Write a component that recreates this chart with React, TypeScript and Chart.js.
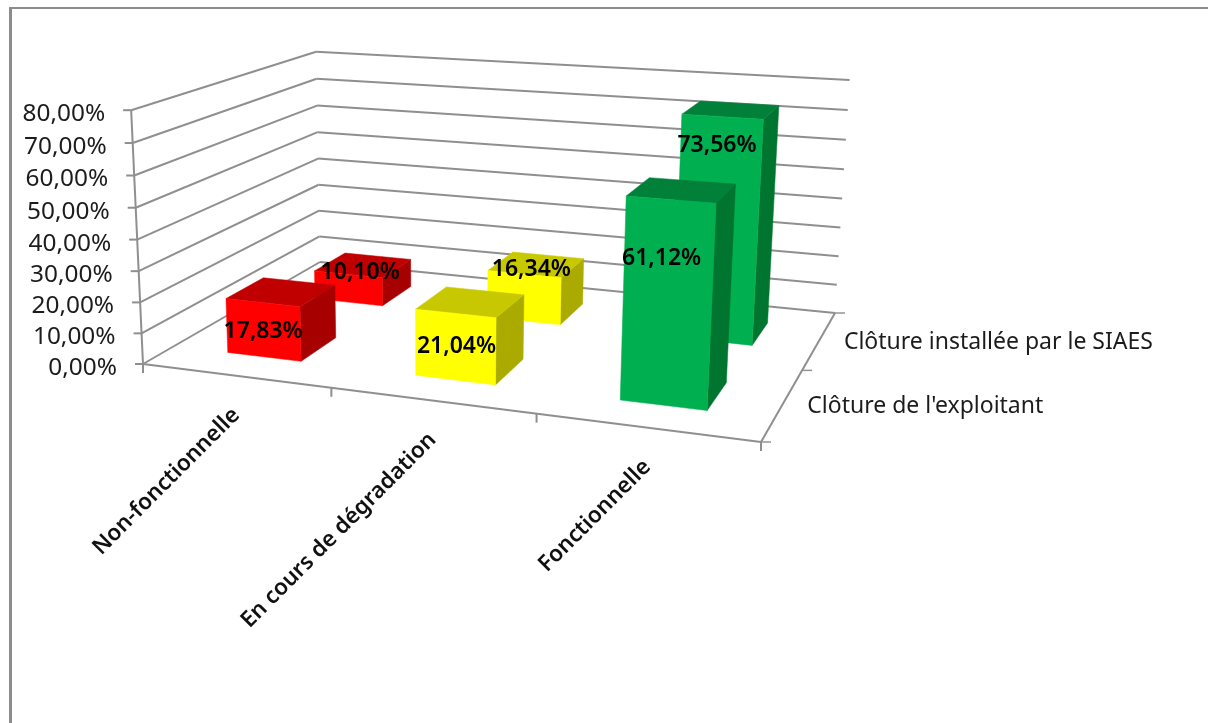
import React, { useEffect, useRef } from "react";
import { Chart, registerables } from "chart.js";

Chart.register(...registerables);

// ---- data ----
const categories = ["Non-fonctionnelle", "En cours de dégradation", "Fonctionnelle"];
const seriesNames = ["Clôture de l'exploitant", "Clôture installée par le SIAES"];
const exploitantValues = [17.83, 21.04, 61.12];
const siaesValues = [10.1, 16.34, 73.56];
const yTicksMax = 80;
const yTicksStep = 10;

// ---- styles ----
const faceColors = [
  { front: "#FF0000", top: "#C00000", side: "#A60000" },
  { front: "#FFFF00", top: "#C8C800", side: "#AAAA00" },
  { front: "#00B050", top: "#008039", side: "#00752F" },
];
const GRID = "#8f8f8f";
const FONT = '"Noto Sans", sans-serif';
const BAR_U = 0.4; // share of a category band
const BAR_V = 0.4; // share of a depth band

// camera calibration: the corners of the 3D box on screen
const floorFL: [number, number] = [143, 364];
const floorFR: [number, number] = [761, 442];
const floorBR: [number, number] = [835, 313];
const floorBL: [number, number] = [320, 262];
const topFL: [number, number] = [129.5, 110];
const topBL: [number, number] = [318, 51];
const topBR: [number, number] = [849, 81];

// data label placement relative to the centre of the bar's top face
const labelNudge = [
  [[-18, 40], [-14, 45], [-20, 68]],
  [[-3, 7], [-5, 5], [-14, 36]],
];

function squareToQuad(p0: number[], p1: number[], p2: number[], p3: number[]) {
  // (0,0)->p0, (1,0)->p1, (1,1)->p2, (0,1)->p3
  const sx = p0[0] - p1[0] + p2[0] - p3[0];
  const sy = p0[1] - p1[1] + p2[1] - p3[1];
  const dx1 = p1[0] - p2[0], dx2 = p3[0] - p2[0];
  const dy1 = p1[1] - p2[1], dy2 = p3[1] - p2[1];
  const den = dx1 * dy2 - dx2 * dy1;
  const g = (sx * dy2 - dx2 * sy) / den;
  const h = (dx1 * sy - sx * dy1) / den;
  return {
    a: p1[0] - p0[0] + g * p1[0], b: p3[0] - p0[0] + h * p3[0], c: p0[0],
    d: p1[1] - p0[1] + g * p1[1], e: p3[1] - p0[1] + h * p3[1], f: p0[1],
    g, h,
  };
}

function solve3(m: number[][], r: number[]) {
  const a = m.map((row, i) => [...row, r[i]]);
  for (let i = 0; i < 3; i++) {
    let p = i;
    for (let k = i + 1; k < 3; k++) if (Math.abs(a[k][i]) > Math.abs(a[p][i])) p = k;
    [a[i], a[p]] = [a[p], a[i]];
    for (let k = 0; k < 3; k++) {
      if (k === i) continue;
      const f = a[k][i] / a[i][i];
      for (let j = i; j < 4; j++) a[k][j] -= f * a[i][j];
    }
  }
  return [a[0][3] / a[0][0], a[1][3] / a[1][1], a[2][3] / a[2][2]];
}

function makeCamera() {
  const H = squareToQuad(floorFL, floorFR, floorBR, floorBL);
  const base = (u: number, v: number) => [
    H.a * u + H.b * v + H.c,
    H.d * u + H.e * v + H.f,
    H.g * u + H.h * v + 1,
  ];
  const rows: number[][] = [];
  const rhs: number[] = [];
  const addPoint = (u: number, v: number, p: number[]) => {
    const [X, Y, Z] = base(u, v);
    rows.push([1, 0, -p[0]]); rhs.push(p[0] * Z - X);
    rows.push([0, 1, -p[1]]); rhs.push(p[1] * Z - Y);
  };
  addPoint(0, 0, topFL);
  addPoint(0, 1, topBL);
  addPoint(1, 1, topBR);
  const N = [0, 1, 2].map((i) => [0, 1, 2].map((j) => rows.reduce((s, r) => s + r[i] * r[j], 0)));
  const R = [0, 1, 2].map((i) => rows.reduce((s, r, k) => s + r[i] * rhs[k], 0));
  const [A, B, C] = solve3(N, R);
  return (u: number, v: number, w: number): [number, number] => {
    const [X, Y, Z] = base(u, v);
    const d = Z + C * w;
    return [(X + A * w) / d, (Y + B * w) / d];
  };
}

const pct = (n: number) => n.toFixed(2).replace(".", ",") + "%";

const box3d = {
  id: "box3d",
  beforeDatasetsDraw() {
    return false; // the flat bars are replaced by their projected version below
  },
  afterDraw(chart: any) {
    const { ctx, scales } = chart;
    const xS = scales.x, yS = scales.y, dS = scales.depth;
    const project = makeCamera();
    const U = (val: number) => (xS.getPixelForValue(val) - xS.left) / xS.width;
    const V = (val: number) => (dS.getPixelForValue(val) - dS.left) / dS.width;
    const W = (val: number) => (yS.bottom - yS.getPixelForValue(val)) / yS.height;

    const line = (a: number[], b: number[], color = GRID, lw = 2) => {
      ctx.beginPath();
      ctx.moveTo(a[0], a[1]);
      ctx.lineTo(b[0], b[1]);
      ctx.strokeStyle = color;
      ctx.lineWidth = lw;
      ctx.stroke();
    };
    const poly = (pts: number[][], fill: string) => {
      ctx.beginPath();
      pts.forEach((p, i) => (i ? ctx.lineTo(p[0], p[1]) : ctx.moveTo(p[0], p[1])));
      ctx.closePath();
      ctx.fillStyle = fill;
      ctx.fill();
      ctx.strokeStyle = fill;
      ctx.lineWidth = 0.5;
      ctx.stroke();
    };

    ctx.save();
    // frame of the picture
    ctx.fillStyle = "#8c8c8c";
    ctx.fillRect(9, 7, 3, 716);
    ctx.fillRect(9, 7, 1199, 2);

    const uMin = U(-0.5), uMax = U(categories.length - 0.5);
    const vMin = V(-0.5), vMax = V(seriesNames.length - 0.5);

    // walls
    yS.ticks.forEach((t: any) => {
      const w = W(t.value);
      const a = project(uMin, vMin, w), b = project(uMin, vMax, w), c = project(uMax, vMax, w);
      line(a, b);
      line(b, c);
      line([a[0] - 8, a[1]], a);
      ctx.fillStyle = "#1c1c1c";
      ctx.font = `24.4px ${FONT}`;
      ctx.textAlign = "right";
      ctx.textBaseline = "middle";
      ctx.fillText(pct(t.value), a[0] - 26, a[1] + 4);
    });
    // floor + axes
    line(project(uMin, vMin, 0), project(uMin, vMin, 1));
    line(project(uMin, vMin, 0), project(uMax, vMin, 0));
    line(project(uMax, vMin, 0), project(uMax, vMax, 0));

    // category ticks
    for (let i = 0; i <= categories.length; i++) {
      const p = project(U(i - 0.5), vMin, 0);
      line(p, [p[0], p[1] + 9]);
    }
    // depth ticks
    for (let i = 0; i <= seriesNames.length; i++) {
      const p = project(uMax, V(i - 0.5), 0);
      line(p, [p[0] + 10, p[1]], GRID, 1.4);
    }

    // bars, back to front
    for (let s = seriesNames.length - 1; s >= 0; s--) {
      const values: number[] = chart.data.datasets[s].data;
      values.forEach((val, i) => {
        const colors = faceColors[i];
        const u0 = U(i - BAR_U / 2), u1 = U(i + BAR_U / 2);
        const v0 = V(s - BAR_V / 2), v1 = V(s + BAR_V / 2);
        const w = W(val);
        poly([project(u1, v0, 0), project(u1, v1, 0), project(u1, v1, w), project(u1, v0, w)], colors.side);
        poly([project(u0, v0, w), project(u1, v0, w), project(u1, v1, w), project(u0, v1, w)], colors.top);
        poly([project(u0, v0, 0), project(u1, v0, 0), project(u1, v0, w), project(u0, v0, w)], colors.front);
      });
    }

    // data labels
    ctx.fillStyle = "#000";
    ctx.font = `600 23px ${FONT}`;
    ctx.textAlign = "center";
    ctx.textBaseline = "middle";
    for (let s = seriesNames.length - 1; s >= 0; s--) {
      const values: number[] = chart.data.datasets[s].data;
      values.forEach((val, i) => {
        const c = project(U(i), V(s), W(val));
        const [dx, dy] = labelNudge[s][i];
        ctx.fillText(pct(val), c[0] + dx, c[1] + dy);
      });
    }

    // depth labels
    ctx.fillStyle = "#1c1c1c";
    ctx.font = `23px ${FONT}`;
    ctx.textAlign = "left";
    seriesNames.forEach((name, s) => {
      const p = project(uMax, V(s), 0);
      ctx.fillText(name, p[0] + 24.5, p[1] + 2.5);
    });

    // category labels
    ctx.fillStyle = "#111";
    ctx.font = `600 22.4px ${FONT}`;
    ctx.textAlign = "right";
    categories.forEach((name, i) => {
      const p = project(U(i), vMin, 0);
      ctx.save();
      ctx.translate(p[0] + 1, p[1] + 36);
      ctx.rotate(-Math.PI / 4);
      ctx.fillText(name, 0, 0);
      ctx.restore();
    });
    ctx.restore();
  },
};

export default function App() {
  const ref = useRef<HTMLCanvasElement>(null);
  useEffect(() => {
    const chart = new Chart(ref.current!, {
      type: "bar",
      data: {
        labels: categories,
        datasets: [
          { label: seriesNames[0], data: exploitantValues, backgroundColor: faceColors.map((c) => c.front) },
          { label: seriesNames[1], data: siaesValues, backgroundColor: faceColors.map((c) => c.front) },
        ],
      },
      options: {
        animation: false,
        responsive: false,
        layout: { padding: 0 },
        plugins: { legend: { display: false }, tooltip: { enabled: false }, title: { display: false } },
        scales: {
          x: { type: "category", offset: true, display: false },
          y: { type: "linear", min: 0, max: yTicksMax, display: false, ticks: { stepSize: yTicksStep } },
          depth: { type: "category", axis: "x", labels: seriesNames, offset: true, display: false },
        },
      },
      plugins: [box3d],
    } as any);
    return () => chart.destroy();
  }, []);
  return (
    <div style={{ position: "absolute", left: 0, top: 0, width: 1208, height: 723, background: "#fff", overflow: "hidden" }}>
      <canvas ref={ref} width={1208} height={723} style={{ display: "block", filter: "blur(0.5px)" }} />
    </div>
  );
}
